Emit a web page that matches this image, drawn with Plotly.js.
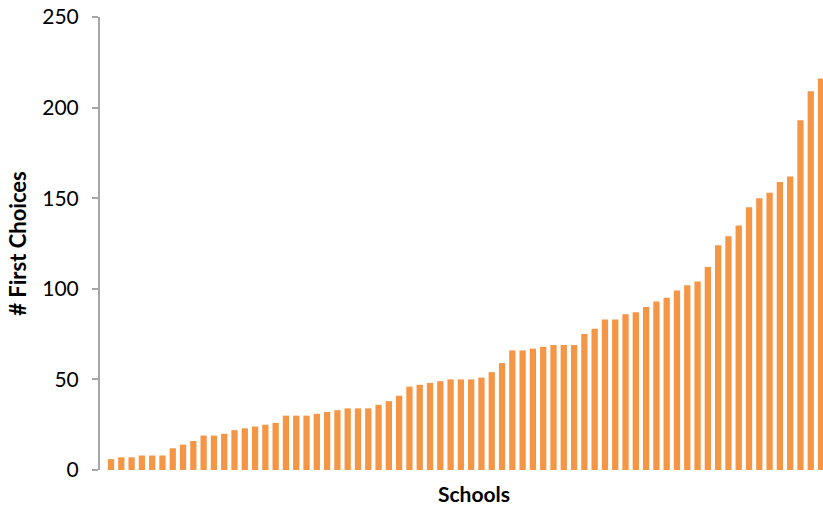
<!DOCTYPE html>
<html>
<head>
<meta charset="utf-8">
<script src="https://cdn.plot.ly/plotly-3.0.1.min.js"></script>
<style>html,body{margin:0;padding:0;background:#fff;}#chart{width:823px;height:505px;}</style>
</head>
<body>
<div id="chart"></div>
<script>
// One bar per school, sorted ascending
var schools = [];
var firstChoices = [
  6, 7, 7, 8, 8, 8, 12, 14, 16, 19,
  19, 20, 22, 23, 24, 25, 26, 30, 30, 30,
  31, 32, 33, 34, 34, 34, 36, 38, 41, 46,
  47, 48, 49, 50, 50, 50, 51, 54, 59, 66,
  66, 67, 68, 69, 69, 69, 75, 78, 83, 83,
  86, 87, 90, 93, 95, 99, 102, 104, 112, 124,
  129, 135, 145, 150, 153, 159, 162, 193, 209, 216
];
for (var i = 0; i < firstChoices.length; i++) schools.push(i);
var yTicks = [0, 50, 100, 150, 200, 250];

var trace = {
  type: 'bar',
  x: schools,
  y: firstChoices,
  marker: {color: '#F49646', line: {width: 0}},
  hoverinfo: 'y',
  cliponaxis: true
};

var FONT = 'Lato, "Open Sans", sans-serif';

var layout = {
  width: 823, height: 505,
  margin: {l: 100, r: 0, t: 17, b: 35, pad: 0},
  paper_bgcolor: '#ffffff', plot_bgcolor: '#ffffff',
  bargap: 0.39,
  showlegend: false,
  font: {family: FONT, color: '#000'},
  xaxis: {
    range: [-1.07, 69.19],
    showticklabels: false, ticks: '', showgrid: false, zeroline: false,
    showline: false, fixedrange: true
  },
  yaxis: {
    range: [0, 250],
    tickvals: yTicks, ticktext: yTicks.map(String),
    ticks: 'outside', ticklen: 6, tickwidth: 2, tickcolor: '#A6A6A6',
    showline: true, linecolor: '#A6A6A6', linewidth: 2,
    showgrid: false, zeroline: false,
    tickfont: {size: 21, family: FONT, color: '#000'},
    ticklabelstandoff: 9,
    title: {text: '<b># First Choices</b>', font: {size: 22, family: FONT, color: '#000'}, standoff: 10}
  },
  annotations: [{
    text: '<b>Schools</b>', xref: 'paper', yref: 'paper',
    x: (474 - 100) / 723, y: -0.051, xanchor: 'center', yanchor: 'middle',
    height: 22, valign: 'middle', borderpad: 0,
    showarrow: false,
    font: {size: 21, family: FONT, color: '#000'}
  }]
};

Plotly.newPlot('chart', [trace], layout, {displayModeBar: false, staticPlot: true});
</script>
</body>
</html>
